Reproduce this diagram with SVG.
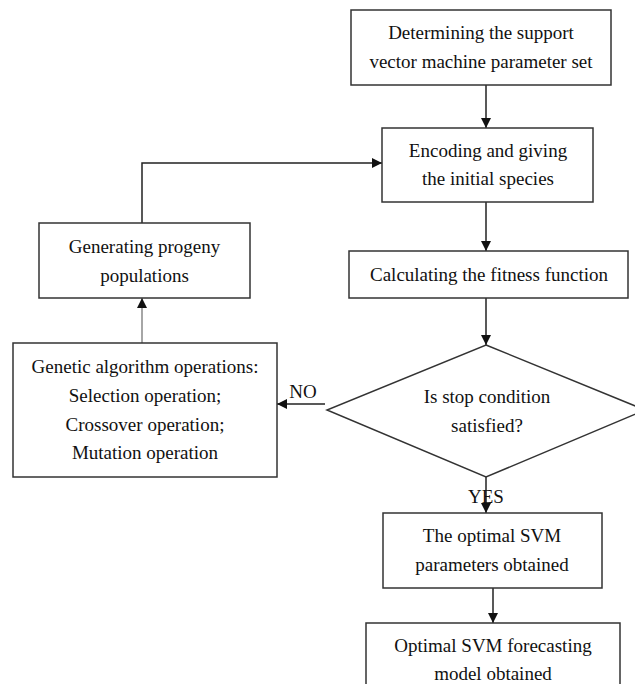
<svg xmlns="http://www.w3.org/2000/svg" width="635" height="684" viewBox="0 0 635 684">
<style>
.box{fill:#fff;stroke:#333;stroke-width:1.5}
.t{font-family:"Liberation Serif","Times New Roman",serif;font-size:19px;fill:#111;text-anchor:middle}
.c{fill:none;stroke:#222;stroke-width:1.5}
</style>
<defs>
<marker id="ah" viewBox="0 0 10 10" refX="10" refY="5" markerWidth="10" markerHeight="10" markerUnits="userSpaceOnUse" orient="auto">
<path d="M0,0 L10,5 L0,10 Z" fill="#111"/>
</marker>
</defs>
<rect width="635" height="684" fill="#fff"/>
<g id="connectors">
<line class="c" x1="486" y1="85" x2="486" y2="128" marker-end="url(#ah)"/>
<polyline class="c" points="142,223 142,163 382,163" marker-end="url(#ah)"/>
<line class="c" x1="486" y1="202" x2="486" y2="251" marker-end="url(#ah)"/>
<line class="c" x1="486" y1="298" x2="486" y2="345" marker-end="url(#ah)"/>
<line class="c" x1="325" y1="404" x2="277" y2="404" marker-end="url(#ah)"/>
<line class="c" x1="142" y1="343" x2="142" y2="298" style="stroke:#888" marker-end="url(#ah)"/>
<line class="c" x1="486" y1="477" x2="486" y2="513" marker-end="url(#ah)"/>
<line class="c" x1="493" y1="588" x2="493" y2="623" marker-end="url(#ah)"/>
<text class="t" x="303" y="398">NO</text>
<text class="t" x="486" y="503">YES</text>
</g>
<g id="n1">
<rect class="box" x="351" y="10" width="260" height="75"/>
<text class="t" x="481" y="39">Determining the support</text>
<text class="t" x="481" y="68">vector machine parameter set</text>
</g>
<g id="n2">
<rect class="box" x="382" y="128" width="211" height="74"/>
<text class="t" x="488" y="157">Encoding and giving</text>
<text class="t" x="488" y="185">the initial species</text>
</g>
<g id="n3">
<rect class="box" x="349" y="251" width="279" height="47"/>
<text class="t" x="489" y="281">Calculating the fitness function</text>
</g>
<g id="n4">
<polygon class="box" points="486,345 645,410 486,477 327,410"/>
<text class="t" x="487" y="403">Is stop condition</text>
<text class="t" x="487" y="432">satisfied?</text>
</g>
<g id="n5">
<rect class="box" x="383" y="513" width="219" height="75"/>
<text class="t" x="492" y="542">The optimal SVM</text>
<text class="t" x="492" y="571">parameters obtained</text>
</g>
<g id="n6">
<rect class="box" x="366" y="623" width="254" height="80"/>
<text class="t" x="493" y="652">Optimal SVM forecasting</text>
<text class="t" x="493" y="680">model obtained</text>
</g>
<g id="n7">
<rect class="box" x="39" y="223" width="211" height="75"/>
<text class="t" x="144.5" y="253">Generating progeny</text>
<text class="t" x="144.5" y="282">populations</text>
</g>
<g id="n8">
<rect class="box" x="13" y="343" width="264" height="134"/>
<text class="t" x="145" y="373">Genetic algorithm operations:</text>
<text class="t" x="145" y="402">Selection operation;</text>
<text class="t" x="145" y="431">Crossover operation;</text>
<text class="t" x="145" y="459">Mutation operation</text>
</g>
</svg>
